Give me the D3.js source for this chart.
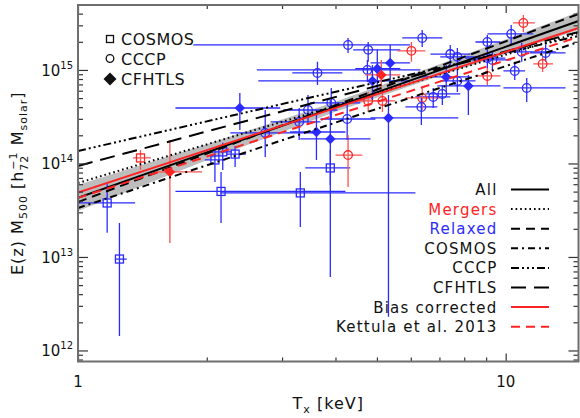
<!DOCTYPE html>
<html>
<head>
<meta charset="utf-8">
<script src="https://cdn.jsdelivr.net/npm/d3@7"></script>
<style>
  body { margin: 0; background: #fff; }
  svg text { font-family: "DejaVu Sans", sans-serif; fill: #111; }
</style>
</head>
<body>
<script>
// Temperatures in keV, masses in units of 1e14 h72^-1 Msolar.
// Rows: [T, T low, T high, M, M low, M high, merger (1) / relaxed (0)]
const cosmosPoints = [
  [1.17, 1.00, 1.36, 0.378, 0.181, 0.618, 0],
  [1.25, 1.22, 1.30, 0.095, 0.0143, 0.231, 0],
  [1.40, 1.345, 1.48, 1.145, 0.852, 1.39, 1],
  [2.09, 1.98, 2.21, 1.09, 0.634, 1.39, 0],
  [2.18, 2.06, 2.29, 1.33, 0.852, 1.66, 0],
  [2.33, 2.22, 2.47, 1.26, 0.918, 1.54, 0],
  [2.16, 1.69, 4.22, 0.502, 0.231, 0.811, 0],
  [3.31, 2.15, 6.15, 0.484, 0.209, 0.811, 0],
  [3.89, 3.40, 4.33, 0.895, 0.589, 1.39, 0]
];

const cccpPoints = [
  [4.28, 1.86, 5.98, 18.5, 15.2, 22.0, 0],
  [4.77, 4.40, 5.67, 16.4, 12.2, 19.9, 0],
  [3.63, 3.17, 4.15, 9.29, 6.91, 12.2, 0],
  [4.75, 2.62, 6.32, 10.0, 7.44, 12.8, 0],
  [3.45, 3.02, 4.04, 3.73, 2.58, 5.41, 0],
  [3.91, 3.49, 4.57, 4.44, 2.92, 6.42, 0],
  [4.26, 3.69, 4.96, 2.99, 1.78, 4.78, 0],
  [3.29, 2.82, 3.69, 2.78, 1.78, 3.92, 0],
  [2.74, 2.27, 3.55, 2.12, 1.17, 3.73, 0],
  [4.28, 4.00, 4.62, 1.23, 0.561, 2.02, 1],
  [11.0, 10.4, 11.7, 31.8, 25.5, 38.7, 1],
  [10.3, 9.06, 11.6, 24.3, 18.5, 30.3, 0],
  [6.38, 5.73, 7.11, 22.0, 17.6, 26.8, 0],
  [6.02, 5.58, 6.49, 16.0, 12.2, 19.9, 1],
  [9.06, 8.50, 9.72, 19.9, 16.4, 23.7, 0],
  [10.9, 9.88, 13.1, 15.6, 12.2, 19.5, 0],
  [12.4, 11.4, 13.8, 15.2, 12.2, 18.5, 0],
  [12.2, 11.6, 12.9, 11.6, 9.52, 13.8, 1],
  [7.42, 6.67, 8.27, 14.8, 11.3, 18.5, 0],
  [7.71, 7.03, 8.73, 13.8, 10.5, 17.2, 0],
  [9.06, 8.05, 9.98, 13.4, 10.5, 16.4, 0],
  [9.31, 8.27, 10.3, 12.8, 10.0, 15.6, 0],
  [10.5, 9.88, 11.1, 9.76, 7.82, 12.2, 0],
  [9.06, 8.50, 9.72, 8.63, 6.91, 10.5, 1],
  [11.2, 9.88, 13.8, 6.42, 4.55, 8.21, 0],
  [7.71, 7.03, 8.50, 7.63, 5.82, 10.0, 0],
  [7.11, 6.49, 7.83, 5.54, 4.22, 6.91, 0],
  [6.77, 6.15, 7.42, 5.14, 3.92, 6.42, 0],
  [6.38, 5.83, 7.03, 5.02, 3.73, 6.42, 1],
  [6.35, 5.83, 6.92, 4.02, 2.58, 5.02, 0],
  [4.77, 4.45, 5.09, 4.66, 3.55, 5.82, 1],
  [5.15, 4.83, 5.52, 4.66, 3.55, 5.82, 1]
];

const cfhtlsPoints = [
  [1.64, 1.53, 1.95, 0.811, 0.141, 1.78, 1],
  [2.39, 1.69, 2.97, 3.92, 2.28, 5.68, 0],
  [3.61, 3.13, 4.22, 2.17, 1.09, 3.30, 0],
  [3.89, 3.31, 4.83, 1.83, 0.061, 4.78, 0],
  [5.32, 4.83, 7.75, 3.07, 0.023, 5.41, 0],
  [8.18, 6.92, 9.72, 6.74, 3.30, 8.84, 0],
  [7.26, 6.32, 8.27, 8.42, 5.82, 11.3, 0],
  [5.01, 4.45, 5.67, 10.3, 6.11, 16.4, 0],
  [5.37, 4.83, 5.98, 11.9, 6.91, 18.5, 0],
  [4.88, 2.64, 5.98, 7.63, 4.78, 11.3, 0],
  [5.12, 4.70, 5.67, 8.84, 6.11, 12.8, 1]
];

// Fitted power laws: mass at the two ends of the temperature range
const fitT = [1, 14.8];
const fitNames = ["All", "Mergers", "Relaxed", "COSMOS", "CCCP", "CFHTLS", "Bias corrected", "Kettula et al. 2013"];
const fitMassStart = [0.428, 0.618, 0.387, 0.334, 1.36, 0.94, 0.488, 0.428];
const fitMassEnd = [33.4, 24.9, 39.7, 19.9, 23.1, 25.5, 28.1, 22.5];

// Uncertainty band of the "All" fit
const bandT = [1, 2, 4, 7, 14.8];
const bandLow = [0.311, 1.08, 3.57, 8.59, 26.8];
const bandHigh = [0.589, 1.60, 4.56, 11.5, 41.7];

const xTickMajor = [1, 10];
const xTickMinor = [2, 3, 4, 5, 6, 7, 8, 9];
const yTickMajor = [0.01, 0.1, 1, 10];
const yTickExponents = ["12", "13", "14", "15"];

const RED = "#ff2424", BLUE = "#2b2bff";
const lineStyles = {
  "All": { color: "#000", dash: null, label: "#111" },
  "Mergers": { color: "#000", dash: "1.6,3", label: RED },
  "Relaxed": { color: "#000", dash: "9,6", label: BLUE },
  "COSMOS": { color: "#000", dash: "7,4,2,4", label: "#111" },
  "CCCP": { color: "#000", dash: "8,3,2,3,2,3,2,3", label: "#111" },
  "CFHTLS": { color: "#000", dash: "15,8", label: "#111" },
  "Bias corrected": { color: RED, dash: null, label: "#111" },
  "Kettula et al. 2013": { color: RED, dash: "9,6", label: "#111" }
};

const plotLeft = 78, plotRight = 578.5, plotTop = 5, plotBottom = 361.5;

const svg = d3.select("body").append("svg")
  .attr("width", 580)
  .attr("height", 418);

const x = d3.scaleLog().domain([1, 14.8]).range([plotLeft, plotRight]);
const y = d3.scaleLog().domain([0.00762, 49.5]).range([plotBottom, plotTop]);

svg.append("clipPath").attr("id", "plot")
  .append("rect")
  .attr("x", plotLeft).attr("y", plotTop)
  .attr("width", plotRight - plotLeft).attr("height", plotBottom - plotTop);

const plot = svg.append("g").attr("clip-path", "url(#plot)");

// band
const bandRows = bandT.map((t, i) => ({ t: t, lo: bandLow[i], hi: bandHigh[i] }));
plot.append("path")
  .datum(bandRows)
  .attr("fill", "#bdbdbd")
  .attr("d", d3.area()
    .x(d => x(d.t))
    .y0(d => y(d.lo))
    .y1(d => y(d.hi)));

// error bars and markers
function drawSample(rows, shape) {
  const g = plot.append("g");
  const pts = rows.map(r => ({ t: r[0], tlo: r[1], thi: r[2], m: r[3], mlo: r[4], mhi: r[5], merger: r[6] }));

  g.selectAll(".xerr").data(pts).enter().append("line")
    .attr("x1", d => x(d.tlo)).attr("x2", d => x(d.thi))
    .attr("y1", d => y(d.m)).attr("y2", d => y(d.m))
    .attr("stroke", d => d.merger ? "#ff5050" : BLUE)
    .attr("stroke-width", 1.3);

  g.selectAll(".yerr").data(pts).enter().append("line")
    .attr("x1", d => x(d.t)).attr("x2", d => x(d.t))
    .attr("y1", d => y(d.mlo)).attr("y2", d => y(d.mhi))
    .attr("stroke", d => d.merger ? "#ff5050" : BLUE)
    .attr("stroke-width", 1.3);

  if (shape == "square") {
    g.selectAll(".mark").data(pts).enter().append("rect")
      .attr("x", d => x(d.t) - 4).attr("y", d => y(d.m) - 4)
      .attr("width", 8).attr("height", 8)
      .attr("fill", "none")
      .attr("stroke", d => d.merger ? RED : BLUE)
      .attr("stroke-width", 1.3);
  } else if (shape == "circle") {
    g.selectAll(".mark").data(pts).enter().append("circle")
      .attr("cx", d => x(d.t)).attr("cy", d => y(d.m))
      .attr("r", 4.3)
      .attr("fill", "none")
      .attr("stroke", d => d.merger ? RED : BLUE)
      .attr("stroke-width", 1.3);
  } else {
    g.selectAll(".mark").data(pts).enter().append("path")
      .attr("d", d3.symbol(d3.symbolSquare, 55)())
      .attr("transform", d => `translate(${x(d.t)},${y(d.m)}) rotate(45)`)
      .attr("fill", d => d.merger ? RED : BLUE);
  }
}

drawSample(cosmosPoints, "square");
drawSample(cccpPoints, "circle");
drawSample(cfhtlsPoints, "diamond");

// fit lines
const lineGen = d3.line().x(d => x(d[0])).y(d => y(d[1]));
fitNames.forEach((name, i) => {
  const st = lineStyles[name];
  plot.append("path")
    .datum([[fitT[0], fitMassStart[i]], [fitT[1], fitMassEnd[i]]])
    .attr("d", lineGen)
    .attr("fill", "none")
    .attr("stroke", st.color)
    .attr("stroke-width", 2)
    .attr("stroke-dasharray", st.dash);
});

// axes: ticks point inwards on all four sides
function tickAxis(axis, pos, values, len) {
  const g = svg.append("g")
    .attr("transform", pos)
    .call(axis.tickValues(values).tickSize(-len).tickFormat(""));
  g.select(".domain").remove();
  g.selectAll("line").attr("stroke", "#333").attr("stroke-width", 1.2);
}

let yTickMinor = [];
for (let k = -3; k <= 1; k++) {
  for (let m = 2; m <= 9; m++) {
    const v = m * Math.pow(10, k);
    if (v > 0.00762 && v < 49.5) yTickMinor.push(v);
  }
}

tickAxis(d3.axisBottom(x), `translate(0,${plotBottom})`, xTickMajor, 8);
tickAxis(d3.axisBottom(x), `translate(0,${plotBottom})`, xTickMinor, 4);
tickAxis(d3.axisTop(x), `translate(0,${plotTop})`, xTickMajor, 8);
tickAxis(d3.axisTop(x), `translate(0,${plotTop})`, xTickMinor, 4);
tickAxis(d3.axisLeft(y), `translate(${plotLeft},0)`, yTickMajor, 10);
tickAxis(d3.axisLeft(y), `translate(${plotLeft},0)`, yTickMinor, 5);
tickAxis(d3.axisRight(y), `translate(${plotRight},0)`, yTickMajor, 10);
tickAxis(d3.axisRight(y), `translate(${plotRight},0)`, yTickMinor, 5);

svg.append("rect")
  .attr("x", plotLeft).attr("y", plotTop)
  .attr("width", plotRight - plotLeft).attr("height", plotBottom - plotTop)
  .attr("fill", "none")
  .attr("stroke", "#6e6e6e")
  .attr("stroke-width", 2);

// tick labels
svg.selectAll(".xlab").data(xTickMajor).enter().append("text")
  .attr("x", d => x(d)).attr("y", 386.5)
  .attr("text-anchor", "middle")
  .attr("font-size", 15)
  .text(d => d);

yTickMajor.forEach((v, i) => {
  const t = svg.append("text")
    .attr("x", 73).attr("y", y(v) + 6)
    .attr("text-anchor", "end")
    .attr("font-size", 15);
  t.append("tspan").text("10");
  t.append("tspan").attr("dy", -7).attr("font-size", 10).text(yTickExponents[i]);
});

// axis titles
const xt = svg.append("text")
  .attr("x", (plotLeft + plotRight) / 2).attr("y", 409)
  .attr("text-anchor", "middle")
  .attr("font-size", 16)
  .attr("letter-spacing", 1);
xt.append("tspan").text("T");
xt.append("tspan").attr("dy", 4).attr("font-size", 11).text("x");
xt.append("tspan").attr("dy", -4).text(" [keV]");

const yt = svg.append("text")
  .attr("transform", `translate(23,${(plotTop + plotBottom) / 2}) rotate(-90)`)
  .attr("text-anchor", "middle")
  .attr("font-size", 16)
  .attr("letter-spacing", 1);
yt.append("tspan").text("E(z)  M");
yt.append("tspan").attr("dy", 4).attr("font-size", 11).text("500");
yt.append("tspan").attr("dy", -4).text("  [h");
yt.append("tspan").attr("dy", 5).attr("font-size", 11).text("72");
yt.append("tspan").attr("dy", -11).attr("dx", -15).attr("font-size", 11).text("−1");
yt.append("tspan").attr("dy", 6).text("   M");
yt.append("tspan").attr("dy", 4).attr("font-size", 11).text("solar");
yt.append("tspan").attr("dy", -4).text("]");

// sample legend (upper left)
const sampleLegend = ["COSMOS", "CCCP", "CFHTLS"];
const sampleY = [39, 58.5, 79];
svg.append("rect").attr("x", 106.5).attr("y", sampleY[0] - 3.5).attr("width", 7).attr("height", 7)
  .attr("fill", "none").attr("stroke", "#111").attr("stroke-width", 1.3);
svg.append("circle").attr("cx", 110).attr("cy", sampleY[1]).attr("r", 3.8)
  .attr("fill", "none").attr("stroke", "#111").attr("stroke-width", 1.3);
svg.append("path").attr("d", d3.symbol(d3.symbolSquare, 85)())
  .attr("transform", `translate(110,${sampleY[2]}) rotate(45)`).attr("fill", "#111");
sampleLegend.forEach((s, i) => {
  svg.append("text")
    .attr("x", 121).attr("y", sampleY[i] + 6)
    .attr("font-size", 16)
    .attr("letter-spacing", 0.5)
    .text(s);
});

// fit legend (lower right)
fitNames.forEach((name, i) => {
  const st = lineStyles[name];
  const by = 195 + i * 19.6;
  svg.append("text")
    .attr("x", 497.5).attr("y", by)
    .attr("text-anchor", "end")
    .attr("font-size", 15)
    .attr("letter-spacing", 1.2)
    .style("fill", st.label)
    .text(name);
  svg.append("line")
    .attr("x1", 511).attr("x2", 549)
    .attr("y1", by - 5.5).attr("y2", by - 5.5)
    .attr("stroke", st.color)
    .attr("stroke-width", 2)
    .attr("stroke-dasharray", st.dash);
});
</script>
</body>
</html>
